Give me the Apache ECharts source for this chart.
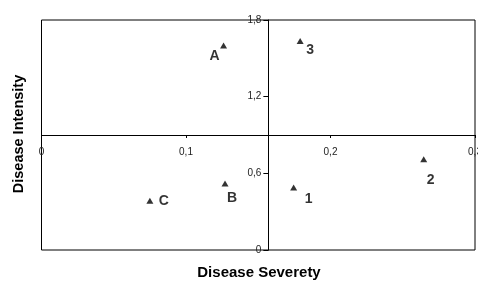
<!DOCTYPE html>
<html><head><meta charset="utf-8">
<script src="https://cdn.jsdelivr.net/npm/echarts@6/dist/echarts.min.js"></script>
<style>html,body{margin:0;padding:0;background:#fff}#c{width:478px;height:283px}</style>
</head><body><div id="c"></div>
<script>
var names = ['A', '3', 'B', 'C', '1', '2'];
var severity = [0.126, 0.179, 0.127, 0.075, 0.1745, 0.2645];
var intensity = [1.60, 1.635, 0.52, 0.385, 0.49, 0.71];
var xTicks = [0, 0.1, 0.2, 0.3];
var yTicks = [0, 0.6, 1.2, 1.8];
var crossX = 0.157, crossY = 0.9;

var labelOffsets = [[-9, 11], [10, 9], [7, 15], [14, 0], [15, 12], [7, 21]];
var G = {left: 41.5, top: 20, right: 3, bottom: 33};
var W = 478, H = 283;
var gw = W - G.left - G.right, gh = H - G.top - G.bottom;
var xMin = xTicks[0], xMax = xTicks[xTicks.length-1];
var yMin = yTicks[0], yMax = yTicks[yTicks.length-1];
var xOff = -(crossY - yMin) / (yMax - yMin) * gh;
var yOff = -(crossX - xMin) / (xMax - xMin) * gw;
function fmt(v){ return String(+v.toFixed(2)).replace('.', ','); }

var data = names.map(function(n, i){
  return {value: [severity[i], intensity[i]], name: n,
    label: {offset: labelOffsets[i]}};
});

var chart = echarts.init(document.getElementById('c'), null, {renderer: 'canvas'});
chart.setOption({
  animation: false,
  grid: {left: G.left, top: G.top, right: G.right, bottom: G.bottom, show: true,
    containLabel: false, outerBoundsMode: 'none',
    borderColor: '#000', borderWidth: 1, backgroundColor: 'transparent'},
  xAxis: {type: 'value', min: xMin, max: xMax, interval: 0.1, position: 'bottom', offset: xOff,
    axisLine: {show: true, onZero: false, lineStyle: {color: '#000', width: 1}},
    axisTick: {show: true, length: 3, lineStyle: {color: '#000'}},
    splitLine: {show: false},
    axisLabel: {color: '#222', fontFamily: 'Liberation Sans', fontSize: 10, margin: 12, formatter: fmt,
      showMinLabel: true, showMaxLabel: true, hideOverlap: false}},
  yAxis: {type: 'value', min: yMin, max: yMax, interval: 0.6, position: 'left', offset: yOff,
    axisLine: {show: true, onZero: false, lineStyle: {color: '#000', width: 1}},
    axisTick: {show: true, length: 5, lineStyle: {color: '#000'}},
    splitLine: {show: false},
    axisLabel: {color: '#222', fontFamily: 'Liberation Sans', fontSize: 10, margin: 7, formatter: fmt}},
  graphic: [
    {type: 'text', x: 259, y: 273,
      style: {text: 'Disease Severety', font: 'bold 15px "Liberation Sans"', fill: '#000',
        align: 'center', verticalAlign: 'middle'}},
    {type: 'text', x: 19, y: 134, rotation: Math.PI/2,
      style: {text: 'Disease Intensity', font: 'bold 14.5px "Liberation Sans"', fill: '#000',
        align: 'center', verticalAlign: 'middle'}}
  ],
  series: [{type: 'scatter', data: data, symbol: 'triangle', symbolSize: [7, 6],
    itemStyle: {color: '#000'},
    label: {show: true, formatter: '{b}', position: 'inside', color: '#000',
      fontFamily: 'Liberation Sans', fontWeight: 'bold', fontSize: 14}}]
});
</script></body></html>
